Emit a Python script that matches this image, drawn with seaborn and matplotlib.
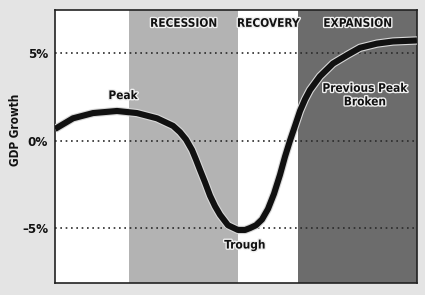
import numpy as np
import pandas as pd
import matplotlib
matplotlib.use("Agg")
import matplotlib.pyplot as plt
import matplotlib.patheffects as pe
import seaborn as sns

# ---- data ----
time_pts = [0.00, 4.97, 10.50, 17.13, 22.65, 28.18, 32.60, 34.53, 36.19, 37.85, 38.95, 40.06,
            41.44, 42.82, 44.20, 45.58, 47.79, 50.55, 52.49, 53.87, 55.52, 57.18, 58.84,
            60.50, 62.15, 63.54, 64.92, 66.30, 67.68, 69.06, 70.44, 73.20, 76.80, 80.66,
            84.25, 88.95, 93.37, 100.00]
gdp_growth = [0.66, 1.27, 1.57, 1.69, 1.57, 1.27, 0.84, 0.48, 0.06, -0.54, -1.09, -1.68,
              -2.39, -3.15, -3.75, -4.24, -4.84, -5.11, -5.11, -5.00, -4.84, -4.51, -3.91,
              -3.04, -1.96, -0.92, 0.00, 0.84, 1.69, 2.35, 2.89, 3.67, 4.40, 4.88,
              5.30, 5.54, 5.66, 5.72]
phase_names = ["RECESSION", "RECOVERY", "EXPANSION"]
phase_start = [20.4, 50.6, 67.1]
phase_end = [50.6, 67.1, 100]
phase_colors = ["#b3b3b3", "#ffffff", "#6c6c6c"]
y_ticks = [5, 0, -5]
y_ticklabels = ["5%", "0%", "\u20135%"]

df = pd.DataFrame({"t": time_pts, "gdp": gdp_growth})

sns.set_theme(style="white")
plt.rcParams["font.family"] = ["DejaVu Sans"]
plt.rcParams["font.stretch"] = "condensed"

fig = plt.figure(figsize=(4.25, 2.95), dpi=100)
fig.patch.set_facecolor("#e4e4e4")
ax = fig.add_axes([55/425, 1-283/295, (417-55)/425, (283-10)/295])
ax.set_facecolor("white")

for s, e, c in zip(phase_start, phase_end, phase_colors):
    ax.axvspan(s, e, color=c, lw=0, zorder=0)

for v in y_ticks:
    ax.axhline(v, color="#2a2a2a", lw=1.2, ls=(0, (1, 2.2)), zorder=1)

sns.lineplot(data=df, x="t", y="gdp", ax=ax, color="#111111", lw=4.4, zorder=3,
             solid_joinstyle="round", solid_capstyle="butt",
             path_effects=[pe.Stroke(linewidth=6.0, foreground="#d8d8d8"), pe.Normal()])

ax.set_xlim(0, 100)
ax.set_ylim(-8.14, 7.46)
ax.set_xticks([])
ax.set_yticks(y_ticks)
ax.set_yticklabels(y_ticklabels, fontsize=9.5, fontweight="bold", color="#111111")
ax.tick_params(axis="y", length=0, pad=5)
ax.set_xlabel("")
ax.set_ylabel("")
for sp in ax.spines.values():
    sp.set_color("#222222")
    sp.set_linewidth(1.2)

fig.text(16/425, 1-130/295, "GDP Growth", rotation=90, ha="center", va="center",
         fontsize=8.5, fontweight="bold", color="#111111")

halo = [pe.withStroke(linewidth=2.0, foreground="#f0f0f0")]
for name, s, e in zip(phase_names, phase_start, phase_end):
    ax.text((s + e) / 2, 6.7, name, ha="center", va="center", fontsize=8.5,
            fontweight="bold", color="#111111", path_effects=halo, zorder=5)

ax.text(18.8, 2.2, "Peak", ha="center", va="bottom", fontsize=8.5, fontweight="bold",
        color="#111111", path_effects=halo, zorder=5)
ax.text(52.5, -5.6, "Trough", ha="center", va="top", fontsize=8.5, fontweight="bold",
        color="#111111", path_effects=halo, zorder=5)
ax.text(85.6, 2.6, "Previous Peak\nBroken", ha="center", va="center", fontsize=8.5,
        fontweight="bold", color="#111111", linespacing=1.05, path_effects=halo, zorder=5)

fig.savefig("out.png", dpi=100, facecolor=fig.get_facecolor())
